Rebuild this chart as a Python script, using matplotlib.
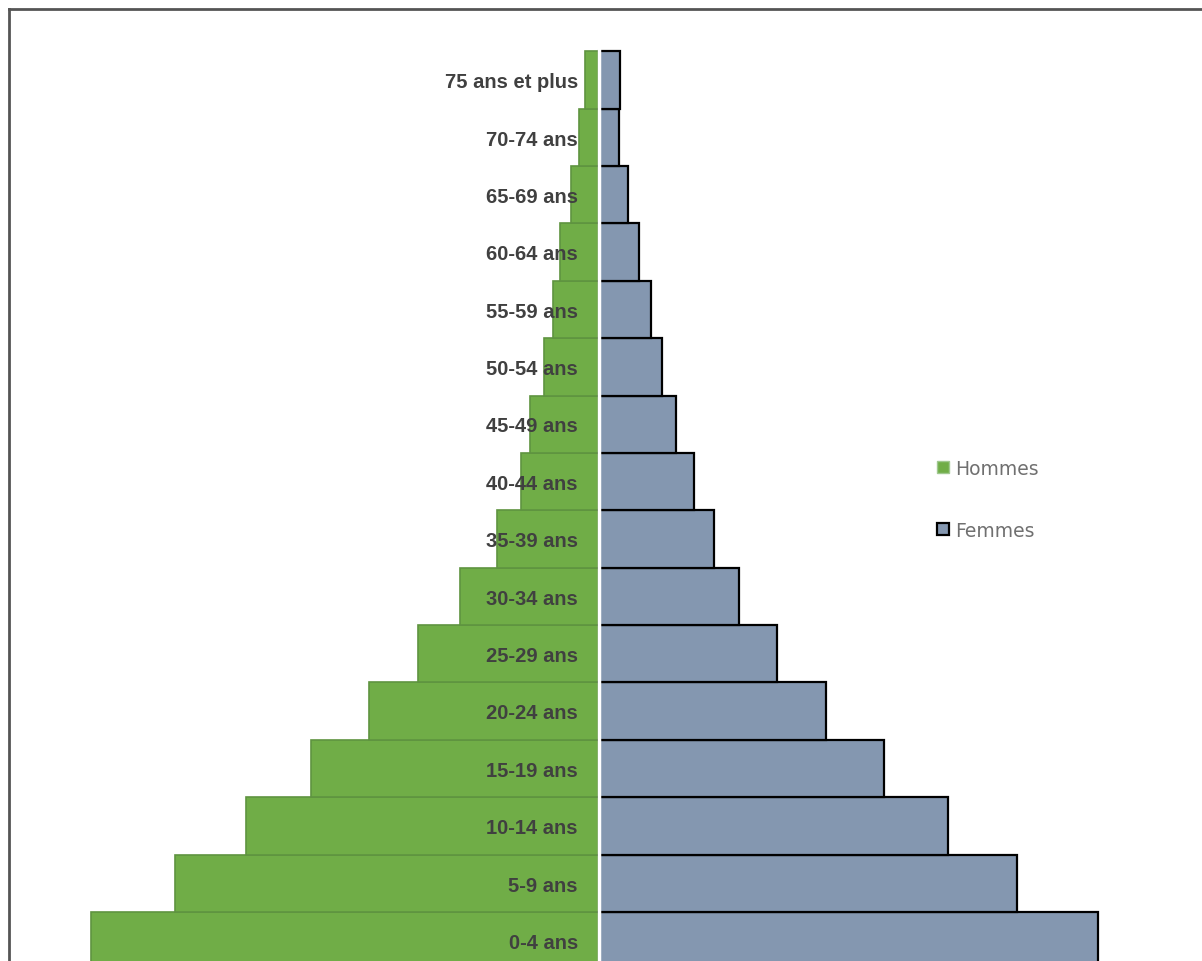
import numpy as np
import matplotlib
matplotlib.use("Agg")
import matplotlib.pyplot as plt
from matplotlib.lines import Line2D

ages = ["0-4 ans", "5-9 ans", "10-14 ans", "15-19 ans", "20-24 ans", "25-29 ans",
        "30-34 ans", "35-39 ans", "40-44 ans", "45-49 ans", "50-54 ans", "55-59 ans",
        "60-64 ans", "65-69 ans", "70-74 ans", "75 ans et plus"]
hommes = [508, 424, 353, 288, 230, 181, 139, 102, 78, 69, 55, 46, 39, 28, 20, 14]
femmes = [499, 418, 349, 285, 227, 178, 140, 115, 95, 77, 63, 52, 40, 29, 20, 21]

vert = "#70AD47"
bleu = "#8497B0"

fig = plt.figure(figsize=(12.02, 9.62), dpi=100)
ax = fig.add_axes([0, 0, 1, 1])

y = np.arange(len(ages))
ax.barh(y, [-v for v in hommes], height=1.0, color=vert, edgecolor="#5F9440",
        linewidth=1.2, label="Hommes")
ax.barh(y, femmes, height=1.0, color=bleu, edgecolor="black",
        linewidth=1.6, label="Femmes")
ax.axvline(0, color="white", lw=2.5, zorder=5)

for yi, lab in zip(y, ages):
    ax.text(-21, yi - 0.03, lab, ha="right", va="center", fontsize=14.5, fontweight="bold",
            color="#404040", family=["Liberation Sans", "DejaVu Sans"],
            zorder=6)

ax.set_xlim(-599, 603)
ax.set_ylim(-0.354, 16.41)
ax.axis("off")

handles = [
    Line2D([], [], marker="s", ls="", markersize=9, markerfacecolor=vert,
           markeredgecolor="#A0C890", markeredgewidth=1),
    Line2D([], [], marker="s", ls="", markersize=9, markerfacecolor=bleu,
           markeredgecolor="black", markeredgewidth=1.6),
]
ax.legend(handles, ["Hommes", "Femmes"], loc="upper left",
          bbox_to_anchor=(0.7705, 0.530), frameon=False, fontsize=13.5,
          labelcolor="#707070", handletextpad=0.15, labelspacing=2.3,
          handlelength=1.0, borderaxespad=0)

# cadre
fig.add_artist(Line2D([9 / 1202, 1], [1 - 10 / 962, 1 - 10 / 962], color="#555555", lw=2,
                      transform=fig.transFigure))
fig.add_artist(Line2D([9 / 1202, 9 / 1202], [0, 1 - 10 / 962], color="#555555", lw=2,
                      transform=fig.transFigure))

fig.savefig("out.png", dpi=100)
